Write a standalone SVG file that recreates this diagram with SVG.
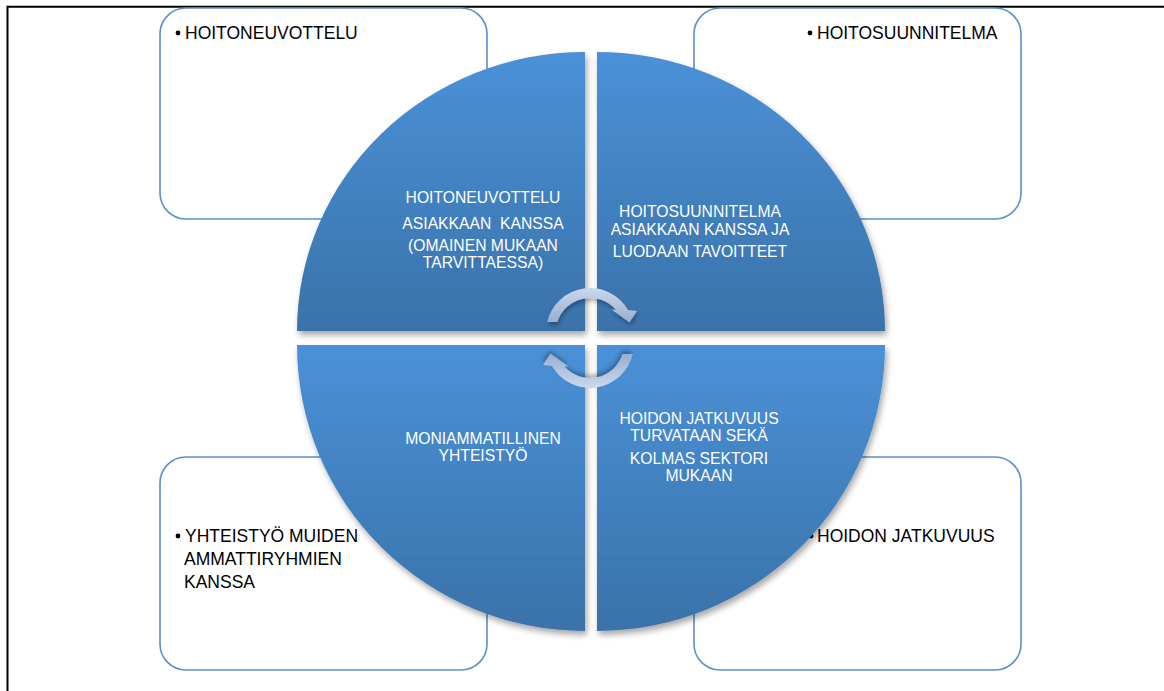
<svg xmlns="http://www.w3.org/2000/svg" width="1164" height="691" viewBox="0 0 1164 691">
<style>
.box{fill:#fff;stroke:#5b8ecb;stroke-width:1.6}
.bt{font-family:"Liberation Sans",Arial,sans-serif;font-size:17.5px;fill:#000}
.qt{font-family:"Liberation Sans",Arial,sans-serif;font-size:15.7px;fill:#fff;text-anchor:middle}
.q{fill:url(#qg);filter:url(#sh)}
.arr{fill:url(#ag);filter:url(#ash)}
</style>
<defs>
<linearGradient id="qg" x1="0" y1="0" x2="0" y2="1">
<stop offset="0" stop-color="#4a91d8"/>
<stop offset="1" stop-color="#3a72a9"/>
</linearGradient>
<linearGradient id="ag" x1="0" y1="0" x2="0" y2="1">
<stop offset="0" stop-color="#cbd8ec"/>
<stop offset="1" stop-color="#98aed0"/>
</linearGradient>
<filter id="sh" x="-10%" y="-10%" width="125%" height="125%">
<feDropShadow dx="2" dy="4" stdDeviation="3" flood-color="#000" flood-opacity="0.35"/>
</filter>
<filter id="ash" x="-20%" y="-20%" width="150%" height="150%">
<feDropShadow dx="1" dy="3" stdDeviation="2" flood-color="#000" flood-opacity="0.3"/>
</filter>
</defs>
<g id="frame" fill="none" stroke="#000" stroke-width="2">
<path d="M7.5,691 V6.7 H1164"/>
</g>
<g id="box-tl">
<rect class="box" x="160" y="8" width="327" height="211" rx="26"/>
<circle cx="178" cy="33" r="2.4"/>
<text class="bt" x="185" y="39">HOITONEUVOTTELU</text>
</g>
<g id="box-tr">
<rect class="box" x="694" y="8" width="327" height="211" rx="26"/>
<circle cx="810" cy="33" r="2.4"/>
<text class="bt" x="817" y="39">HOITOSUUNNITELMA</text>
</g>
<g id="box-bl">
<rect class="box" x="160" y="457" width="327" height="213" rx="26"/>
<circle cx="178" cy="536" r="2.4"/>
<text class="bt" x="185" y="542">YHTEISTYÖ MUIDEN</text>
<text class="bt" x="184" y="565">AMMATTIRYHMIEN</text>
<text class="bt" x="184" y="588">KANSSA</text>
</g>
<g id="box-br">
<rect class="box" x="694" y="457" width="327" height="213" rx="26"/>
<circle cx="811" cy="536" r="2.4"/>
<text class="bt" x="817" y="542">HOIDON JATKUVUUS</text>
</g>
<g id="q-tl">
<path class="q" d="M585,331 H297 A288,279 0 0 1 585,52 Z"/>
<text class="qt" x="483" y="203">HOITONEUVOTTELU</text>
<text class="qt" x="483" y="229" xml:space="preserve">ASIAKKAAN  KANSSA</text>
<text class="qt" x="483" y="251">(OMAINEN MUKAAN</text>
<text class="qt" x="483" y="268">TARVITTAESSA)</text>
</g>
<g id="q-tr">
<path class="q" d="M597,331 V52 A288,279 0 0 1 885,331 Z"/>
<text class="qt" x="700" y="217">HOITOSUUNNITELMA</text>
<text class="qt" x="700" y="235">ASIAKKAAN KANSSA JA</text>
<text class="qt" x="700" y="257">LUODAAN TAVOITTEET</text>
</g>
<g id="q-bl">
<path class="q" d="M585,345 V631 A288,286 0 0 1 297,345 Z"/>
<text class="qt" x="483" y="444">MONIAMMATILLINEN</text>
<text class="qt" x="483" y="461">YHTEISTYÖ</text>
</g>
<g id="q-br">
<path class="q" d="M597,345 H885 A288,286 0 0 1 597,631 Z"/>
<text class="qt" x="699" y="424">HOIDON JATKUVUUS</text>
<text class="qt" x="699" y="441">TURVATAAN SEKÄ</text>
<text class="qt" x="699" y="464">KOLMAS SEKTORI</text>
<text class="qt" x="699" y="481">MUKAAN</text>
</g>
<g id="connectors">
<path class="arr" d="M547.2,322 A44,44 0 0 1 628.1,310 L637,311 L629.5,322.5 L611.5,309.5 L615.9,310 A34,34 0 0 0 557.5,322 Z"/>
<path class="arr" transform="rotate(180 590 338)" d="M547.2,322 A44,44 0 0 1 628.1,310 L637,311 L629.5,322.5 L611.5,309.5 L615.9,310 A34,34 0 0 0 557.5,322 Z"/>
</g>
</svg>
